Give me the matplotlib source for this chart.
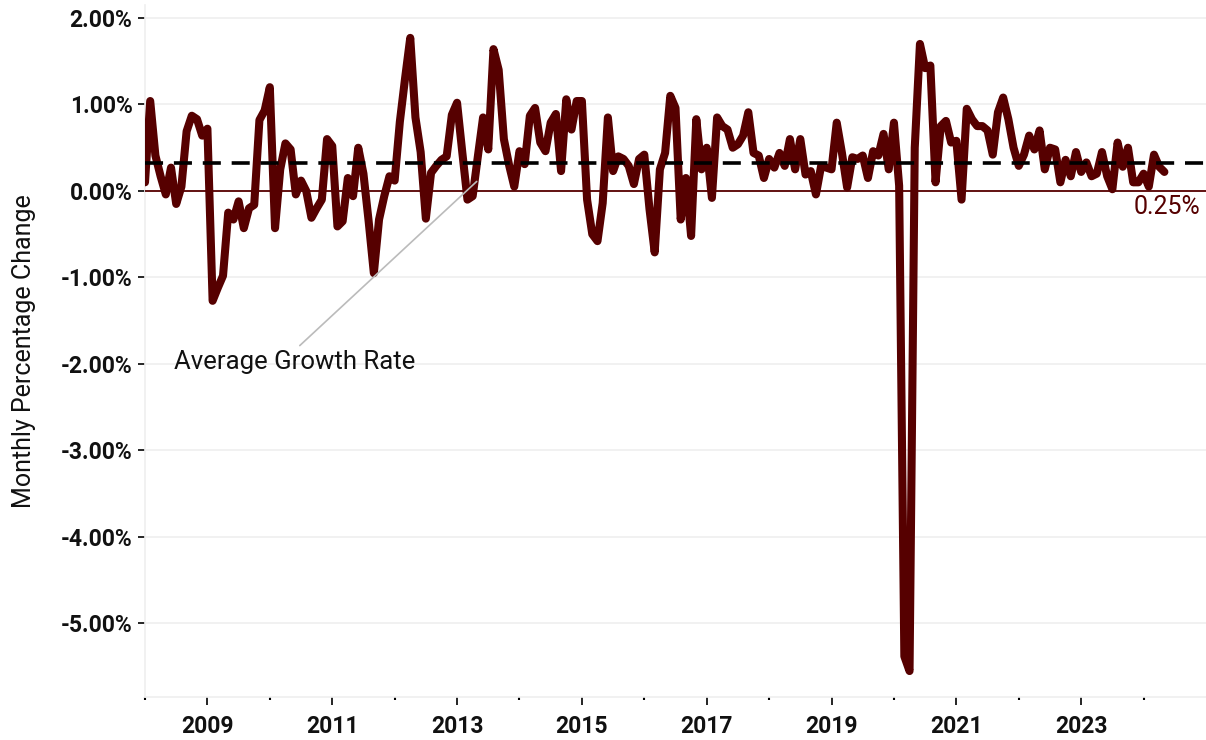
import numpy as np
import matplotlib
matplotlib.use("Agg")
import matplotlib.pyplot as plt
from matplotlib.ticker import FixedLocator, FuncFormatter

plt.rcParams["font.family"] = ["Roboto", "DejaVu Sans"]

# ---------------------------------------------------------------------------
# Data: monthly % change, Jan 2008 .. May 2024
# ---------------------------------------------------------------------------
START_YEAR = 2008
MONTHLY_CHANGE = [
    # 2008
    0.10, 1.04, 0.41, 0.17, -0.04, 0.27, -0.15, 0.05, 0.69, 0.87, 0.83, 0.64,
    # 2009
    0.72, -1.27, -1.12, -0.98, -0.25, -0.33, -0.12, -0.43, -0.20, -0.16, 0.82, 0.93,
    # 2010
    1.20, -0.43, 0.25, 0.55, 0.48, -0.04, 0.12, 0.00, -0.31, -0.20, -0.10, 0.60,
    # 2011
    0.52, -0.41, -0.35, 0.15, -0.06, 0.50, 0.20, -0.35, -0.95, -0.33, -0.06, 0.17,
    # 2012
    0.12, 0.80, 1.30, 1.77, 0.85, 0.45, -0.32, 0.21, 0.29, 0.36, 0.40, 0.88,
    # 2013
    1.02, 0.45, -0.10, -0.06, 0.40, 0.85, 0.48, 1.64, 1.40, 0.60, 0.30, 0.05,
    # 2014
    0.46, 0.31, 0.87, 0.96, 0.56, 0.46, 0.79, 0.89, 0.23, 1.06, 0.71, 1.04,
    # 2015
    1.04, -0.10, -0.50, -0.58, -0.14, 0.85, 0.23, 0.40, 0.37, 0.29, 0.08, 0.37,
    # 2016
    0.42, -0.21, -0.71, 0.25, 0.44, 1.10, 0.96, -0.33, 0.15, -0.52, 0.83, 0.25,
    # 2017
    0.50, -0.08, 0.85, 0.75, 0.71, 0.50, 0.54, 0.64, 0.91, 0.44, 0.41, 0.15,
    # 2018
    0.37, 0.27, 0.44, 0.29, 0.60, 0.25, 0.60, 0.19, 0.23, -0.04, 0.29, 0.27,
    # 2019
    0.25, 0.79, 0.44, 0.04, 0.39, 0.37, 0.41, 0.15, 0.46, 0.41, 0.66, 0.25,
    # 2020
    0.79, 0.06, -5.38, -5.55, 0.50, 1.70, 1.42, 1.45, 0.10, 0.75, 0.81, 0.56,
    # 2021
    0.58, -0.10, 0.95, 0.83, 0.75, 0.75, 0.70, 0.42, 0.91, 1.08, 0.83, 0.50,
    # 2022
    0.29, 0.42, 0.64, 0.48, 0.70, 0.25, 0.50, 0.48, 0.10, 0.36, 0.17, 0.45,
    # 2023
    0.22, 0.33, 0.17, 0.20, 0.45, 0.17, 0.02, 0.56, 0.28, 0.50, 0.10, 0.10,
    # 2024
    0.20, 0.05, 0.42, 0.28, 0.22,
]
AVG_LINE = 0.32          # dashed "Average Growth Rate" level
AVG_LABEL = "0.25%"
Y_TICKS = [2, 1, 0, -1, -2, -3, -4, -5]
MAJOR_YEARS = [2009, 2011, 2013, 2015, 2017, 2019, 2021, 2023]
MINOR_YEARS = [2008, 2010, 2012, 2014, 2016, 2018, 2020, 2022, 2024]

# ---------------------------------------------------------------------------
# Style
# ---------------------------------------------------------------------------
LINE_C = "#560000"
GRID_C = "#EFEFEF"
TEXT_C = "#111111"

fig = plt.figure(figsize=(12.06, 7.40), dpi=100)
ax = fig.add_axes([145 / 1206, 1 - 697 / 740, 1 - 145 / 1206, (697 - 5) / 740])

x = START_YEAR + np.arange(len(MONTHLY_CHANGE)) / 12.0
ax.plot(x, MONTHLY_CHANGE, color=LINE_C, lw=5.8, solid_joinstyle="round",
        solid_capstyle="round", zorder=4)

ax.axhline(0, color=LINE_C, lw=1.3, zorder=3)
ax.axhline(AVG_LINE, color="black", lw=2.6, ls=(0, (5, 3)), zorder=5)

ax.set_xlim(2008, 2025)
ax.set_ylim(-5.85, 2.15)

ax.yaxis.set_major_locator(FixedLocator(Y_TICKS))
ax.yaxis.set_major_formatter(FuncFormatter(lambda v, _: f"{v:.2f}%"))
ax.xaxis.set_major_locator(FixedLocator(MAJOR_YEARS))
ax.xaxis.set_minor_locator(FixedLocator(MINOR_YEARS))
ax.xaxis.set_major_formatter(FuncFormatter(lambda v, _: f"{int(round(v))}"))

ax.grid(axis="y", color=GRID_C, lw=1.2, zorder=0)
ax.set_axisbelow(True)
for side in ["top", "right"]:
    ax.spines[side].set_visible(False)
for side in ["left", "bottom"]:
    ax.spines[side].set_color(GRID_C)
    ax.spines[side].set_linewidth(1.2)

ax.tick_params(axis="y", length=5, width=1.2, color="black", pad=4,
               labelsize=16.5)
ax.tick_params(axis="x", which="major", length=6, width=1.2, color="black",
               pad=7, labelsize=16.5)
ax.tick_params(axis="x", which="minor", length=2, width=1.5, color="black")
for lab in ax.get_xticklabels() + ax.get_yticklabels():
    lab.set_fontweight("bold")
    lab.set_color(TEXT_C)

ax.set_ylabel("Monthly Percentage Change", fontsize=18, color=TEXT_C)
ax.yaxis.set_label_coords(-0.103, 0.5)

# annotation
ax.annotate("Average Growth Rate", xy=(2008 + (477 - 146) / 5.19 / 12, AVG_LINE - 0.21),
            xytext=(2008 + (175 - 146) / 5.19 / 12, -1.98),
            fontsize=18.5, color=TEXT_C, va="center", ha="left",
            arrowprops=dict(arrowstyle="-", color="#BBBBBB", lw=1.2,
                            shrinkA=2, shrinkB=0,
                            relpos=(0.5, 1.0)),
            zorder=6)

ax.text(0.995, -0.05, AVG_LABEL, transform=ax.get_yaxis_transform(),
        ha="right", va="top", fontsize=18, color=LINE_C)

fig.savefig("out.png", dpi=100, facecolor="white")
